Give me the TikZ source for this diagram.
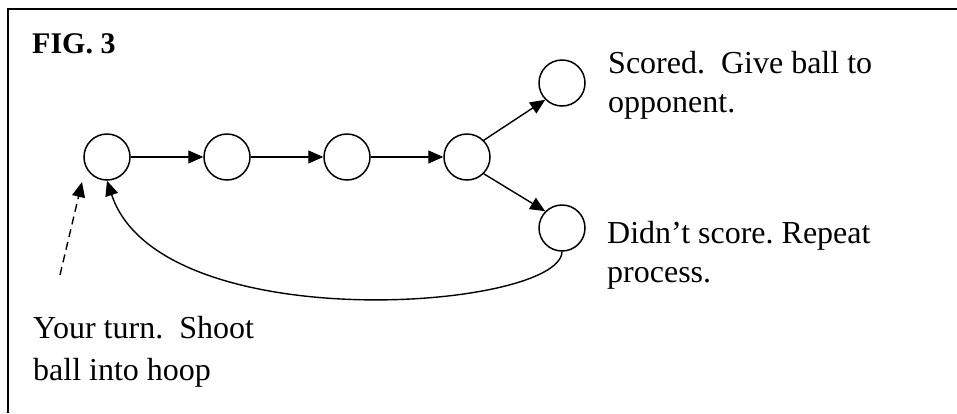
\documentclass[tikz,border=0pt]{standalone}
\usepackage{fontspec}
\setmainfont{Liberation Serif}
\usetikzlibrary{arrows.meta}
\begin{document}
\begin{tikzpicture}[x=1pt,y=-1pt,
  state/.style={circle,draw,line width=1.5pt,minimum size=46pt,inner sep=0pt},
  conn/.style={line width=1.4pt,-{Triangle[length=15pt,width=13pt]}},
  lbl/.style={anchor=base west,inner sep=0pt,font=\fontsize{32}{40}\selectfont}]
\useasboundingbox (0,0) rectangle (957,413);
\fill[white] (0,0) rectangle (957,413);
\draw[line width=2pt] (8,413) -- (8,9) -- (957,9);
\frenchspacing
\node[lbl,font=\fontsize{30}{36}\selectfont\bfseries] (fig) at (32,53) {FIG. 3};
\node[state] (n1) at (107,157) {};
\node[state] (n2) at (227,157) {};
\node[state] (n3) at (347,157) {};
\node[state] (n4) at (467,157) {};
\node[state] (top) at (562,83) {};
\node[state] (bot) at (562,228) {};
\draw[conn] (n1) -- (n2);
\draw[conn] (n2) -- (n3);
\draw[conn] (n3) -- (n4);
\draw[conn] (n4.45) -- (top.225);
\draw[conn] (n4.-45) -- (bot.135);
\draw[conn] (bot.south) .. controls (560,310) and (160,340) .. (n1.south);
\coordinate (ds) at (60,275);
\coordinate (de) at (82,182);
\draw[conn,dash pattern=on 8pt off 5pt] (ds) -- (de);
\node[lbl] (s1) at (608,73) {Scored.~~Give ball to};
\node[lbl] (s2) at (608,112) {opponent.};
\node[lbl] (d1) at (607,243) {Didn’t score. Repeat};
\node[lbl] (d2) at (607,282) {process.};
\node[lbl] (y1) at (33,338) {Your turn.~~Shoot};
\node[lbl] (y2) at (33,380) {ball into hoop};
\end{tikzpicture}
\end{document}
